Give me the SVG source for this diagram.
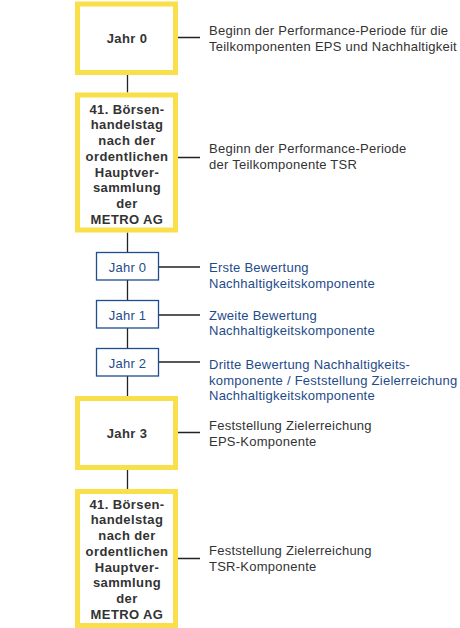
<svg xmlns="http://www.w3.org/2000/svg" width="460" height="628" viewBox="0 0 460 628">
<style>
.big{fill:#fff;stroke:#f9e04b;stroke-width:5}
.small{fill:#fff;stroke:#1d4d8c;stroke-width:1.3}
.bt{font-family:"Liberation Sans",Arial,sans-serif;font-size:13px;font-weight:bold;fill:#333;text-anchor:middle;letter-spacing:0.4px}
.st{font-family:"Liberation Sans",Arial,sans-serif;font-size:13px;fill:#1e4b8a;text-anchor:middle;letter-spacing:0.25px}
.d{font-family:"Liberation Sans",Arial,sans-serif;font-size:13px;fill:#333;letter-spacing:0.25px}
.db{font-family:"Liberation Sans",Arial,sans-serif;font-size:13px;fill:#1e4b8a;letter-spacing:0.25px}
.c{stroke:#222;stroke-width:1.3;fill:none}
</style>
<rect width="460" height="628" fill="#fff"/>
<g id="connectors">
<path class="c" d="M127.5 75V92.5M127.5 232.5V252M127.5 280V300M127.5 328V348M127.5 376V396M127.5 470V489"/>
<path class="c" d="M178 37.5H200M178 157.5H200M158.5 267H200M158.5 315H200M158.5 362H200M178 432.5H200M178 558.5H200"/>
</g>
<g id="n1">
<rect class="big" x="77.5" y="4" width="98" height="68.5"/>
<text class="bt" x="127" y="42.5">Jahr 0</text>
<text class="d" x="209" y="35">Beginn der Performance-Periode für die</text>
<text class="d" x="209" y="50.5">Teilkomponenten EPS und Nachhaltigkeit</text>
</g>
<g id="n2">
<rect class="big" x="77.5" y="95" width="98" height="135"/>
<text class="bt" x="127"><tspan x="127" y="113.5">41. Börsen-</tspan><tspan x="127" y="129.25">handelstag</tspan><tspan x="127" y="145">nach der</tspan><tspan x="127" y="160.75">ordentlichen</tspan><tspan x="127" y="176.5">Hauptver-</tspan><tspan x="127" y="192.25">sammlung</tspan><tspan x="127" y="208">der</tspan><tspan x="127" y="223.75">METRO AG</tspan></text>
<text class="d" x="209" y="152.5">Beginn der Performance-Periode</text>
<text class="d" x="209" y="168.5">der Teilkomponente TSR</text>
</g>
<g id="n3">
<rect class="small" x="96.5" y="252.5" width="62" height="27.5"/>
<text class="st" x="127.5" y="271.5">Jahr 0</text>
<text class="db" x="209" y="271.5">Erste Bewertung</text>
<text class="db" x="209" y="287.5">Nachhaltigkeitskomponente</text>
</g>
<g id="n4">
<rect class="small" x="96.5" y="300.5" width="62" height="27.5"/>
<text class="st" x="127.5" y="319.5">Jahr 1</text>
<text class="db" x="209" y="319.5">Zweite Bewertung</text>
<text class="db" x="209" y="335">Nachhaltigkeitskomponente</text>
</g>
<g id="n5">
<rect class="small" x="96.5" y="348.5" width="62" height="27.5"/>
<text class="st" x="127.5" y="367.5">Jahr 2</text>
<text class="db" x="209" y="369">Dritte Bewertung Nachhaltigkeits-</text>
<text class="db" x="209" y="384.5">komponente / Feststellung Zielerreichung</text>
<text class="db" x="209" y="400">Nachhaltigkeitskomponente</text>
</g>
<g id="n6">
<rect class="big" x="77.5" y="398.5" width="98" height="69"/>
<text class="bt" x="127" y="438">Jahr 3</text>
<text class="d" x="209" y="429.5">Feststellung Zielerreichung</text>
<text class="d" x="209" y="445.5">EPS-Komponente</text>
</g>
<g id="n7">
<rect class="big" x="77.5" y="491.5" width="98" height="134"/>
<text class="bt" x="127"><tspan x="127" y="508.5">41. Börsen-</tspan><tspan x="127" y="524.25">handelstag</tspan><tspan x="127" y="540">nach der</tspan><tspan x="127" y="555.75">ordentlichen</tspan><tspan x="127" y="571.5">Hauptver-</tspan><tspan x="127" y="587.25">sammlung</tspan><tspan x="127" y="603">der</tspan><tspan x="127" y="618.75">METRO AG</tspan></text>
<text class="d" x="209" y="555">Feststellung Zielerreichung</text>
<text class="d" x="209" y="571">TSR-Komponente</text>
</g>
</svg>
